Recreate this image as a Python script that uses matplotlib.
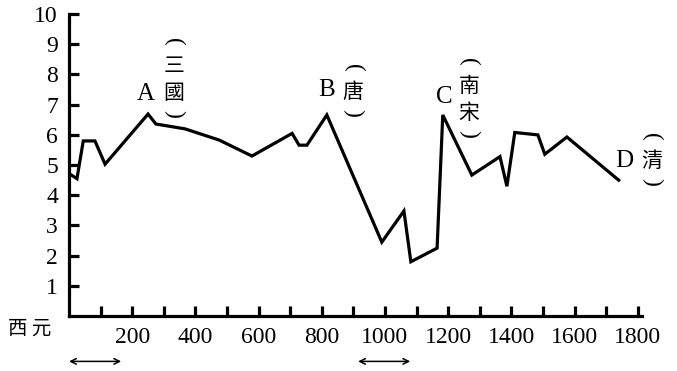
import matplotlib.pyplot as plt

# data
years = [0, 25, 45, 82, 114, 250, 275, 367, 475, 579, 706, 728, 753, 816,
         990, 1060, 1082, 1165, 1183, 1275, 1364, 1386, 1411, 1484, 1506, 1576, 1740]
values = [4.72, 4.55, 5.8, 5.8, 5.03, 6.69, 6.36, 6.2, 5.83, 5.3, 6.05, 5.66, 5.66, 6.66,
          2.45, 3.48, 1.8, 2.25, 6.66, 4.67, 5.28, 4.3, 6.08, 6.0, 5.36, 5.93, 4.5]

peak_letters = ['A', 'B', 'C', 'D']
dynasties = ['三國', '唐', '南宋', '清']

arrow_spans = [(0, 165), (915, 1080)]

serif = 'Liberation Serif'
cjk = ['Noto Sans CJK TC', 'DejaVu Sans']

fig = plt.figure(figsize=(6.77, 3.71), dpi=100)
ax = fig.add_axes([0.102, 0.148, 0.846, 0.814])

ax.plot(years, values, color='black', lw=2.3, solid_joinstyle='miter')

ax.set_xlim(0, 1813)
ax.set_ylim(0, 10)
for s in ['top', 'right']:
    ax.spines[s].set_visible(False)
for s in ['left', 'bottom']:
    ax.spines[s].set_linewidth(2.3)

ax.set_yticks(range(1, 11))
ax.set_xticks(range(100, 1801, 100))
ax.set_xticklabels([str(y) if y % 200 == 0 else '' for y in range(100, 1801, 100)])
ax.tick_params(direction='in', length=7, width=2.3, labelsize=17, pad=8)
for lab in ax.get_xticklabels() + ax.get_yticklabels():
    lab.set_fontfamily(serif)

# letters by the peaks
letter_pos = [(244, 7.35), (816, 7.5), (1187, 7.25), (1759, 5.13)]
for L, (x, y) in zip(peak_letters, letter_pos):
    ax.text(x, y, L, fontsize=18, family=serif, ha='center', va='center',
            clip_on=False)

# dynasty names, vertical, with arcs above and below
dyn_x = [332, 899, 1266, 1845]
dyn_top = [9.07, 8.21, 8.41, 5.93]
step = 0.89
for name, x, top in zip(dynasties, dyn_x, dyn_top):
    ax.text(x, top, '(', fontsize=17, family=serif, rotation=-90,
            ha='center', va='center', clip_on=False)
    y = top - 0.78
    for ch in name:
        ax.text(x, y, ch, fontsize=15, family=cjk, ha='center', va='center',
                clip_on=False)
        y -= step
    ax.text(x, y + step - 0.7, ')', fontsize=17, family=serif, rotation=-90,
            ha='center', va='center', clip_on=False)

ax.text(-193, -0.4, '西 元', fontsize=14, family=cjk, ha='left', va='center',
        clip_on=False)

for a, b in arrow_spans:
    ax.annotate('', xy=(b, -1.5), xytext=(a, -1.5), xycoords='data',
                annotation_clip=False,
                arrowprops=dict(arrowstyle='<->', color='black', lw=1.1,
                                shrinkA=0, shrinkB=0))

fig.savefig('out.png', dpi=100)
